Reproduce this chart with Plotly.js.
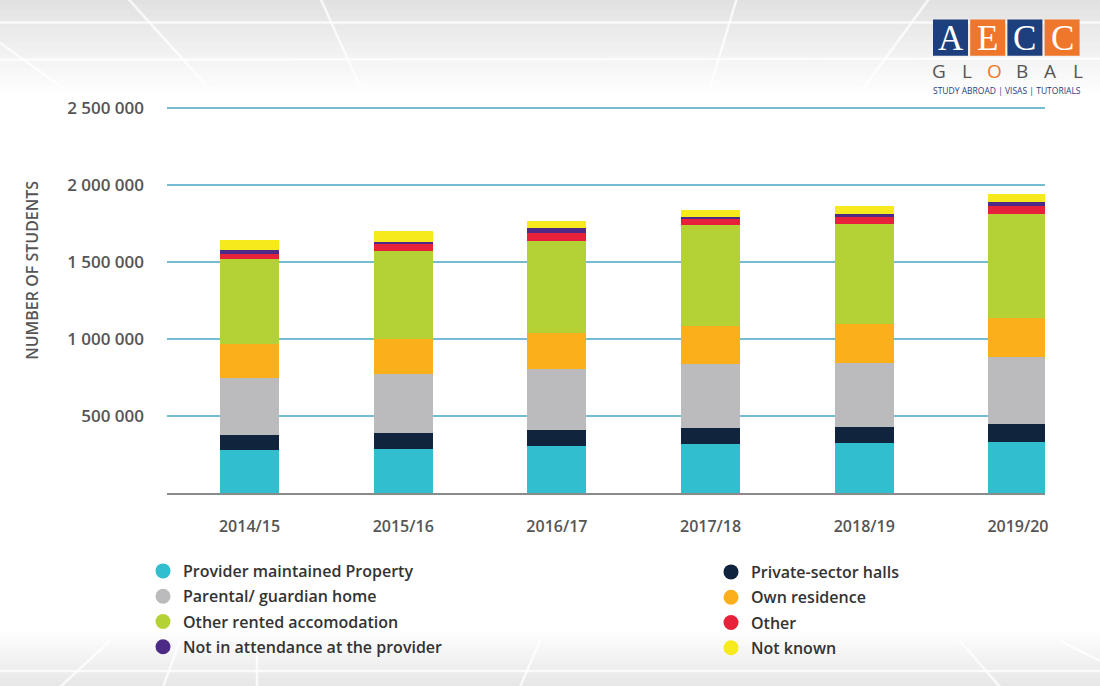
<!DOCTYPE html>
<html>
<head>
<meta charset="utf-8">
<script src="https://cdn.plot.ly/plotly-3.0.1.min.js"></script>
<style>html,body{margin:0;padding:0;background:#fff;}#chart{width:1100px;height:686px;}</style>
</head>
<body>
<div id="chart"></div>
<script>
// ---- Data ----
const years = ['2014/15', '2015/16', '2016/17', '2017/18', '2018/19', '2019/20'];
const providerMaintained = [279000, 288000, 307000, 318000, 323000, 333000];
const privateHalls       = [97000, 100000, 102000, 106000, 108000, 115000];
const parentalHome       = [370000, 385000, 394000, 413000, 416000, 433000];
const ownResidence       = [219000, 227000, 234000, 247000, 251000, 257000];
const otherRented        = [552000, 573000, 600000, 654000, 649000, 673000];
const otherAccom         = [34000, 43000, 50000, 39000, 43000, 54000];
const notInAttendance    = [30000, 15000, 32000, 17000, 21000, 26000];
const notKnown           = [60000, 71000, 48000, 43000, 52000, 52000];

const yTickVals = [500000, 1000000, 1500000, 2000000, 2500000];
const yTickText = ['500 000', '1 000 000', '1 500 000', '2 000 000', '2 500 000'];
const yTitle = 'NUMBER OF STUDENTS';

const seriesNames = {
  provider: 'Provider maintained Property',
  privateHalls: 'Private-sector halls',
  parental: 'Parental/ guardian home',
  own: 'Own residence',
  rented: 'Other rented accomodation',
  other: 'Other',
  notAttend: 'Not in attendance at the provider',
  notKnown: 'Not known'
};
const colors = {
  provider: '#31bfcf', privateHalls: '#10243e', parental: '#bbbbbd', own: '#fbb01b',
  rented: '#b4d236', other: '#e8213b', notAttend: '#4c2a85', notKnown: '#f6ea1d'
};

// stacking order bottom -> top
const stack = [
  ['provider', providerMaintained],
  ['privateHalls', privateHalls],
  ['parental', parentalHome],
  ['own', ownResidence],
  ['rented', otherRented],
  ['other', otherAccom],
  ['notAttend', notInAttendance],
  ['notKnown', notKnown]
];

const traces = stack.map(([k, vals]) => ({
  type: 'bar', x: years, y: vals, name: seriesNames[k],
  marker: {color: colors[k], line: {width: 0}},
  width: 0.384, showlegend: false, hoverinfo: 'x+y+name'
}));

// legend columns
const legendLeft = ['provider', 'parental', 'rented', 'notAttend'];
const legendRight = ['privateHalls', 'own', 'other', 'notKnown'];
function legendTrace(k, lg) {
  return {type: 'scatter', mode: 'markers', x: [null], y: [null], name: seriesNames[k],
    legendgroup: k,
    marker: {symbol: 'circle', size: 15, color: colors[k]}, legend: lg, showlegend: true, hoverinfo: 'skip'};
}
legendLeft.forEach(k => traces.push(legendTrace(k, 'legend')));
legendRight.forEach(k => traces.push(legendTrace(k, 'legend2')));

const baseFont = {family: '"Open Sans", sans-serif', color: '#444'};

// paper coordinate helpers (plot area: x 167..1045, y 108..493)
const px = v => (v - 167) / 878;
const py = v => (493 - v) / 385;

// background decorations
const shapes = [];
for (let i = 0; i < 15; i++) {
  shapes.push({type: 'rect', xref: 'paper', yref: 'paper', layer: 'below',
    x0: px(0), x1: px(1100), y0: py(95 * (i + 1) / 15), y1: py(0),
    fillcolor: 'rgba(0,0,0,0.007)', line: {width: 0}});
}
for (let i = 0; i < 12; i++) {
  shapes.push({type: 'rect', xref: 'paper', yref: 'paper', layer: 'below',
    x0: px(0), x1: px(1100), y0: py(686), y1: py(686 - 55 * (i + 1) / 12),
    fillcolor: 'rgba(0,0,0,0.006)', line: {width: 0}});
}
const bgLines = [
  [0, 25, 1100, 25], [0, 62, 1100, 61],
  [127, 0, 213, 95], [320, 0, 363, 95], [0, 45, 63, 90], [737, 0, 707, 100], [930, 0, 860, 95],
  [0, 670, 1100, 670], [60, 686, 110, 640], [163, 686, 180, 640], [257, 686, 257, 640],
  [520, 686, 540, 640], [1000, 686, 960, 640], [1100, 660, 1060, 640]
];
bgLines.forEach(([x0, y0, x1, y1]) => shapes.push({type: 'line', xref: 'paper', yref: 'paper', layer: 'below',
  x0: px(x0), y0: py(y0), x1: px(x1), y1: py(y1), line: {color: 'rgba(255,255,255,0.75)', width: 2.5}}));

// logo
const logoLetters = ['A', 'E', 'C', 'C'];
const logoColors = ['#1e3f7d', '#ef772b', '#1e3f7d', '#ef772b'];
const annotations = [];
logoLetters.forEach((L, i) => {
  const x0 = 933 + i * 37.2;
  shapes.push({type: 'rect', xref: 'paper', yref: 'paper',
    x0: px(x0), x1: px(x0 + 35), y0: py(58), y1: py(22),
    fillcolor: logoColors[i], line: {width: 0}});
  annotations.push({xref: 'paper', yref: 'paper', x: px(x0 + 17.5), y: py(41),
    text: L, showarrow: false, xanchor: 'center', yanchor: 'middle',
    font: {family: '"Liberation Serif", "DejaVu Serif", serif', size: 35, color: '#ffffff'}});
});
['G', 'L', 'O', 'B', 'A', 'L'].forEach((c, i) => {
  annotations.push({xref: 'paper', yref: 'paper', x: px(939 + i * 27.8), y: py(73),
    text: c, showarrow: false, xanchor: 'center', yanchor: 'middle',
    font: {family: '"Open Sans", sans-serif', size: 19, color: c === 'O' ? '#ef772b' : '#555555'}});
});
annotations.push({xref: 'paper', yref: 'paper', x: px(1007), y: py(92.5),
  text: 'STUDY ABROAD | VISAS | TUTORIALS', showarrow: false, xanchor: 'center', yanchor: 'middle',
  font: {family: '"Open Sans", sans-serif', size: 8.5, color: '#1e3f7d'}});
// y axis title
annotations.push({xref: 'paper', yref: 'paper', x: px(32), y: py(272),
  text: yTitle, textangle: -90, showarrow: false, xanchor: 'center', yanchor: 'middle',
  font: {family: '"Open Sans", sans-serif', size: 16, color: '#555', weight: 600}});

const legendCommon = {
  xref: 'container', yref: 'container', xanchor: 'left', yanchor: 'top', orientation: 'v',
  bgcolor: 'rgba(0,0,0,0)', traceorder: 'grouped', tracegroupgap: 1.5,
  font: {family: '"Open Sans", sans-serif', size: 16, color: '#333', weight: 600},
  itemclick: false
};

const layout = {
  width: 1100, height: 686,
  paper_bgcolor: '#ffffff', plot_bgcolor: 'rgba(0,0,0,0)',
  margin: {l: 167, r: 55, t: 106, b: 193, autoexpand: false},
  barmode: 'stack',
  font: baseFont,
  xaxis: {
    type: 'category', range: [-0.537, 5.176], fixedrange: true,
    showgrid: false, zeroline: false,
    showline: true, linecolor: '#8a8a8a', linewidth: 2,
    ticks: '', ticklabelstandoff: 18, tickangle: 0,
    tickfont: {family: '"Open Sans", sans-serif', size: 16, color: '#555', weight: 600}
  },
  yaxis: {
    range: [0, 2513000], fixedrange: true,
    tickvals: yTickVals, ticktext: yTickText,
    showgrid: true, gridcolor: '#73bcd2', gridwidth: 1.5,
    zeroline: false, showline: false, ticks: '', ticklabelstandoff: 22,
    tickfont: {family: '"Open Sans", sans-serif', size: 17, color: '#555', weight: 600}
  },
  legend: Object.assign({}, legendCommon, {x: 143 / 1100, y: 1 - 554 / 686}),
  legend2: Object.assign({}, legendCommon, {x: 711 / 1100, y: 1 - 555 / 686}),
  shapes: shapes,
  annotations: annotations
};

Plotly.newPlot('chart', traces, layout, {displayModeBar: false, staticPlot: true});
</script>
</body>
</html>
